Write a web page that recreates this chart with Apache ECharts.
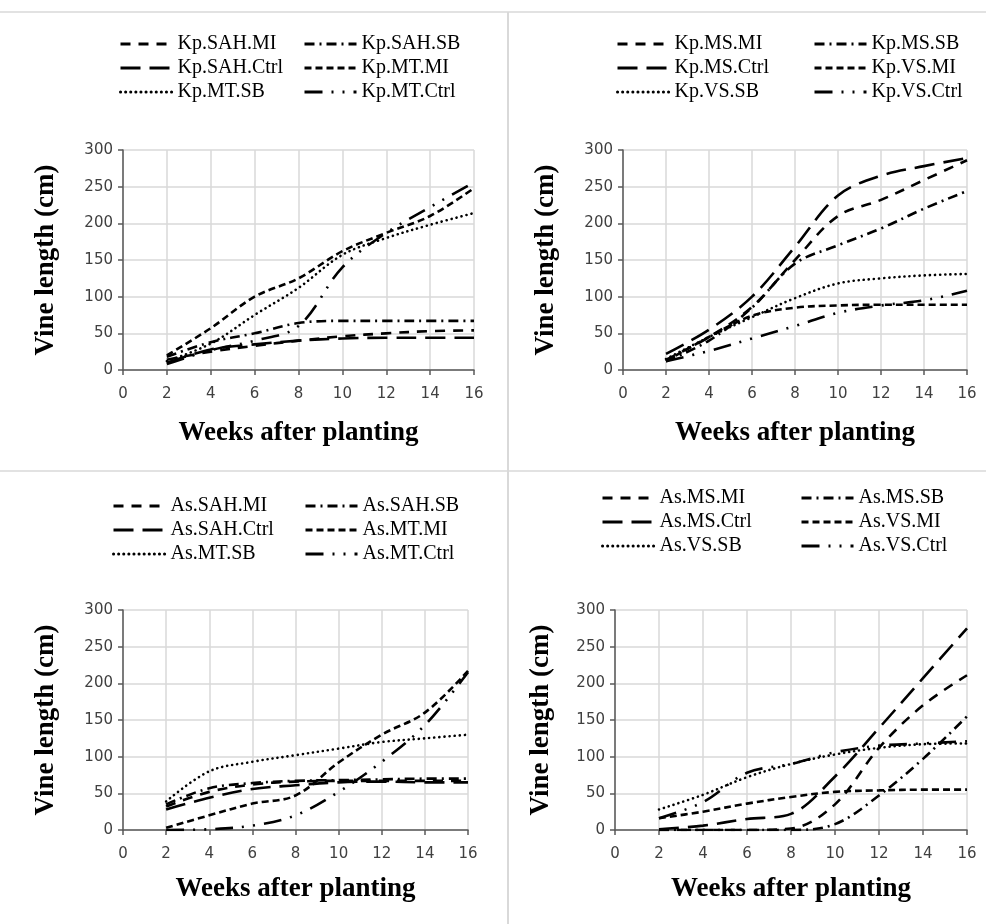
<!DOCTYPE html>
<html>
<head>
<meta charset="utf-8">
<script src="https://cdn.jsdelivr.net/npm/echarts@6/dist/echarts.min.js"></script>
<style>
html,body{margin:0;padding:0;background:#fff;}
#c{width:986px;height:924px;}
</style>
</head>
<body>
<div id="c"></div>
<script>
// ---- data ----
const weeks = [2, 4, 6, 8, 10, 12, 14, 16];
const xTicks = [0, 2, 4, 6, 8, 10, 12, 14, 16];
const yTicks = [0, 50, 100, 150, 200, 250, 300];

// Panel 1: Kp SAH / MT
const kpSahMi   = [14, 25, 33, 40, 46, 50, 53, 54];
const kpSahSb   = [18, 38, 50, 64, 67, 67, 67, 67];
const kpSahCtrl = [10, 28, 35, 40, 43, 44, 44, 44];
const kpMtMi    = [20, 57, 100, 125, 162, 187, 210, 248];
const kpMtSb    = [12, 36, 75, 112, 157, 180, 198, 214];
const kpMtCtrl  = [8, 27, 40, 60, 140, 187, 222, 256];

// Panel 2: Kp MS / VS
const kpMsMi   = [14, 45, 86, 150, 210, 232, 259, 286];
const kpMsSb   = [12, 40, 85, 145, 170, 193, 220, 244];
const kpMsCtrl = [22, 55, 100, 168, 238, 265, 278, 289];
const kpVsMi   = [12, 45, 74, 85, 88, 89, 89, 89];
const kpVsSb   = [15, 45, 72, 98, 118, 125, 129, 131];
const kpVsCtrl = [12, 26, 43, 60, 78, 88, 95, 108];

// Panel 3: As SAH / MT
const asSahMi   = [32, 52, 62, 66, 67, 67, 67, 67];
const asSahSb   = [35, 57, 64, 67, 68, 69, 70, 70];
const asSahCtrl = [28, 44, 56, 61, 65, 66, 65, 65];
const asMtMi    = [3, 20, 36, 47, 92, 130, 160, 217];
const asMtSb    = [39, 80, 93, 102, 111, 120, 125, 130];
const asMtCtrl  = [0, 1, 6, 20, 52, 93, 143, 215];

// Panel 4: As MS / VS
const asMsMi   = [0, 0, 0, 2, 35, 112, 170, 211];
const asMsSb   = [0, 0, 0, 0, 8, 47, 97, 155];
const asMsCtrl = [1, 6, 15, 22, 73, 139, 207, 275];
const asVsMi   = [16, 25, 36, 45, 52, 54, 55, 55];
const asVsSb   = [28, 48, 72, 90, 103, 112, 117, 118];
const asVsCtrl = [16, 38, 78, 90, 106, 115, 118, 121];

const panelNames = [
  ['Kp.SAH.MI','Kp.SAH.SB','Kp.SAH.Ctrl','Kp.MT.MI','Kp.MT.SB','Kp.MT.Ctrl'],
  ['Kp.MS.MI','Kp.MS.SB','Kp.MS.Ctrl','Kp.VS.MI','Kp.VS.SB','Kp.VS.Ctrl'],
  ['As.SAH.MI','As.SAH.SB','As.SAH.Ctrl','As.MT.MI','As.MT.SB','As.MT.Ctrl'],
  ['As.MS.MI','As.MS.SB','As.MS.Ctrl','As.VS.MI','As.VS.SB','As.VS.Ctrl']
];
const panelData = [
  [kpSahMi, kpSahSb, kpSahCtrl, kpMtMi, kpMtSb, kpMtCtrl],
  [kpMsMi, kpMsSb, kpMsCtrl, kpVsMi, kpVsSb, kpVsCtrl],
  [asSahMi, asSahSb, asSahCtrl, asMtMi, asMtSb, asMtCtrl],
  [asMsMi, asMsSb, asMsCtrl, asVsMi, asVsSb, asVsCtrl]
];

// ---- styles ----
const dashes = [
  [10, 8],            // MI  - - -
  [10, 5, 2, 5],      // SB  - . - .
  [20, 9],            // Ctrl long dash
  [7, 4],             // second MI -----
  [0.1, 5],           // dotted
  [18, 9, 2, 9, 2, 9] // long dash dot dot
];

const grids = [
  {left: 123, top: 150, width: 351, height: 220},
  {left: 623, top: 150, width: 344, height: 220},
  {left: 123, top: 610, width: 345, height: 220},
  {left: 615, top: 610, width: 352, height: 220}
];
const yNameGap = [63, 63, 63, 60];
const xNameGap = [50, 50, 46, 46];

// legend column positions [leftColX, rightColX, top]
const legendPos = [
  [119, 303, 34],
  [616, 813, 34],
  [112, 304, 496],
  [601, 800, 488]
];

const serif = '"Liberation Serif", "Times New Roman", serif';
const sans = '"DejaVu Sans", Verdana, sans-serif';

const option = {
  animation: false,
  backgroundColor: '#fff',
  grid: grids.map(g => Object.assign({containLabel: false}, g)),
  xAxis: grids.map((g, i) => ({
    type: 'value', gridIndex: i, min: 0, max: 16, interval: 2,
    name: 'Weeks after planting', nameLocation: 'middle', nameGap: xNameGap[i],
    nameTextStyle: {fontFamily: serif, fontWeight: 'bold', fontSize: 27, color: '#000'},
    axisLine: {show: true, onZero: false, lineStyle: {color: '#595959', width: 1.5}},
    axisTick: {show: true, length: 5, lineStyle: {color: '#595959', width: 1.5}},
    axisLabel: {fontFamily: sans, fontSize: 15, color: '#404040', margin: 17},
    splitLine: {show: true, lineStyle: {color: '#d9d9d9', width: 1.5}}
  })),
  yAxis: grids.map((g, i) => ({
    type: 'value', gridIndex: i, min: 0, max: 300, interval: 50,
    name: 'Vine length (cm)', nameLocation: 'middle', nameGap: yNameGap[i], nameRotate: 90,
    nameTextStyle: {fontFamily: serif, fontWeight: 'bold', fontSize: 27, color: '#000'},
    axisLine: {show: true, lineStyle: {color: '#595959', width: 1.5}},
    axisTick: {show: true, length: 5, lineStyle: {color: '#595959', width: 1.5}},
    axisLabel: {fontFamily: sans, fontSize: 15, color: '#404040', margin: 10},
    splitLine: {show: true, lineStyle: {color: '#d9d9d9', width: 1.5}}
  })),
  legend: [],
  series: [],
  graphic: [
    {type: 'line', shape: {x1: 0, y1: 12, x2: 986, y2: 12}, style: {stroke: '#d9d9d9', lineWidth: 1.5}},
    {type: 'line', shape: {x1: 508, y1: 12, x2: 508, y2: 924}, style: {stroke: '#d9d9d9', lineWidth: 2}},
    {type: 'line', shape: {x1: 0, y1: 471, x2: 986, y2: 471}, style: {stroke: '#d9d9d9', lineWidth: 1.5}}
  ]
};

panelNames.forEach((names, p) => {
  names.forEach((nm, k) => {
    option.series.push({
      name: nm, type: 'line', xAxisIndex: p, yAxisIndex: p,
      data: weeks.map((w, j) => [w, panelData[p][k][j]]),
      smooth: 0.35, symbol: 'none', showSymbol: false,
      lineStyle: {color: '#000', width: 2.6, type: dashes[k], cap: k === 4 ? 'round' : 'butt'},
      itemStyle: {color: '#000'}
    });
  });
  const lp = legendPos[p];
  [[0, 2, 4], [1, 3, 5]].forEach((idx, c) => {
    option.legend.push({
      data: idx.map(j => ({name: names[j]})),
      orient: 'vertical', left: c === 0 ? lp[0] : lp[1], top: lp[2],
      itemWidth: 52, itemHeight: 14, itemGap: 4, padding: 0,
      selectedMode: false,
      itemStyle: {opacity: 0, borderWidth: 0},
      lineStyle: {width: 3},
      textStyle: {fontFamily: serif, fontSize: 20, color: '#000', lineHeight: 20}
    });
  });
});

const chart = echarts.init(document.getElementById('c'), null, {renderer: 'canvas'});
chart.setOption(option);
</script>
</body>
</html>
